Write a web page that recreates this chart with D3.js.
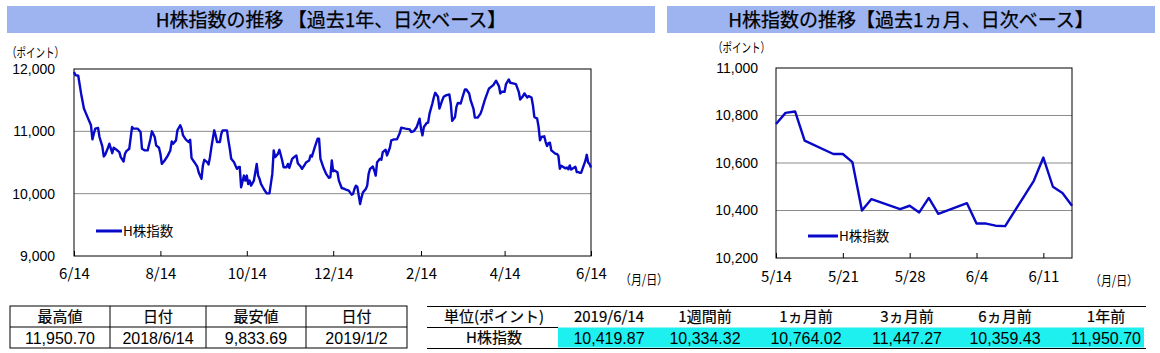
<!DOCTYPE html>
<html>
<head>
<meta charset="utf-8">
<script src="https://cdn.jsdelivr.net/npm/d3@7"></script>
<style>
  body { margin: 0; background: #fff; }
  svg { display: block; }
</style>
</head>
<body>
<svg id="chart" width="1160" height="353"></svg>
<script>
// --- data ---
// 1-year chart: calendar days since 2018/6/14 and index level
const yearStart = '2018-06-14';
const yearDays = [0, 1, 3, 5, 7, 8, 10, 12, 13, 14, 15, 17, 18, 20, 21, 22, 24, 25, 27, 28,
  30, 32, 33, 35, 36, 37, 39, 41, 42, 45, 47, 48, 50, 52, 54, 55, 57, 58, 60, 61,
  62, 64, 66, 68, 69, 70, 72, 73, 75, 76, 77, 79, 81, 82, 83, 85, 87, 88, 90, 91,
  92, 94, 95, 96, 97, 99, 100, 101, 103, 104, 105, 108, 109, 110, 111, 113, 115, 116, 117, 118,
  120, 121, 122, 123, 124, 125, 127, 129, 130, 131, 132, 134, 136, 138, 140, 141, 142, 144, 145, 147,
  148, 150, 151, 152, 154, 156, 157, 158, 160, 161, 163, 164, 166, 167, 168, 170, 172, 173, 174, 176,
  178, 180, 181, 182, 183, 184, 186, 187, 189, 191, 192, 194, 196, 197, 198, 199, 200, 202, 203, 204,
  206, 207, 208, 209, 211, 212, 213, 214, 216, 217, 218, 220, 221, 223, 224, 226, 228, 230, 231, 234,
  237, 238, 240, 242, 244, 245, 246, 247, 249, 250, 251, 253, 254, 255, 257, 258, 260, 261, 263, 265,
  266, 267, 269, 270, 271, 273, 274, 276, 277, 279, 280, 282, 283, 285, 287, 288, 290, 291, 293, 294,
  296, 298, 300, 301, 302, 304, 305, 307, 308, 310, 312, 314, 315, 317, 318, 320, 321, 323, 324, 325,
  327, 328, 329, 330, 332, 333, 334, 335, 336, 337, 340, 341, 342, 343, 344, 347, 348, 349, 350, 351,
  354, 355, 356, 357, 358, 361, 362, 363, 364, 365];
const yearValues = [11951, 11903, 11892, 11608, 11366, 11312, 11204, 11097, 10871, 10962, 11043, 11054, 10909, 10758, 10597, 10624, 10737, 10801, 10650, 10737,
  10704, 10667, 10586, 10516, 10640, 10683, 10720, 11070, 11043, 11043, 10989, 10720, 10694, 10694, 10882, 11000, 10909, 10774, 10737, 10640,
  10478, 10532, 10602, 10694, 10839, 10801, 10855, 11016, 11097, 11043, 10935, 10866, 10828, 10866, 10570, 10505, 10435, 10344, 10237, 10452,
  10543, 10505, 10468, 10586, 10747, 11016, 10935, 10828, 10828, 10962, 11016, 11016, 10855, 10720, 10559, 10505, 10398, 10425, 10430, 10102,
  10290, 10210, 10290, 10156, 10210, 10129, 10210, 10478, 10290, 10237, 10156, 10075, 10005, 10005, 10317, 10694, 10586, 10640, 10704, 10532,
  10425, 10425, 10478, 10414, 10559, 10597, 10613, 10489, 10435, 10398, 10468, 10505, 10532, 10613, 10597, 10747, 10882, 10882, 10559, 10425,
  10317, 10253, 10263, 10532, 10359, 10371, 10344, 10210, 10091, 10075, 10064, 10048, 9984, 9995, 10075, 10129, 10113, 9834, 9941, 10021,
  10075, 10129, 10317, 10398, 10435, 10371, 10290, 10505, 10559, 10543, 10667, 10704, 10613, 10737, 10855, 10871, 10871, 10973, 11059, 11043,
  11032, 10989, 11005, 11070, 11204, 11043, 10935, 11070, 11134, 11140, 11285, 11446, 11543, 11618, 11554, 11366, 11500, 11554, 11581, 11591,
  11446, 11167, 11231, 11392, 11457, 11447, 11527, 11672, 11672, 11608, 11500, 11366, 11220, 11220, 11285, 11349, 11500, 11565, 11688, 11704,
  11742, 11812, 11726, 11608, 11634, 11634, 11758, 11833, 11780, 11769, 11758, 11634, 11511, 11565, 11608, 11543, 11565, 11543, 11419, 11231,
  11204, 11070, 10855, 10909, 10920, 10828, 10764, 10811, 10817, 10694, 10638, 10638, 10604, 10400, 10448, 10406, 10420, 10392, 10453, 10386,
  10431, 10345, 10345, 10336, 10334, 10525, 10623, 10500, 10474, 10420];
const yearTicks = ['2018-06-14', '2018-08-14', '2018-10-14', '2018-12-14', '2019-02-14', '2019-04-14', '2019-06-14'];
const yearLevels = [9000, 10000, 11000, 12000];

// 1-month chart
const monthDates = ['2019-05-14', '2019-05-15', '2019-05-16', '2019-05-17', '2019-05-20', '2019-05-21', '2019-05-22',
  '2019-05-23', '2019-05-24', '2019-05-27', '2019-05-28', '2019-05-29', '2019-05-30', '2019-05-31', '2019-06-03',
  '2019-06-04', '2019-06-05', '2019-06-06', '2019-06-07', '2019-06-10', '2019-06-11', '2019-06-12', '2019-06-13', '2019-06-14'];
const monthValues = [10764, 10811, 10817, 10694, 10638, 10638, 10604, 10400, 10448, 10406, 10420, 10392, 10453, 10386, 10431,
  10345, 10345, 10336, 10334, 10525, 10623, 10500, 10474, 10420];
const monthTicks = ['2019-05-14', '2019-05-21', '2019-05-28', '2019-06-04', '2019-06-11'];
const monthLevels = [10200, 10400, 10600, 10800, 11000];

// tables
const summaryHeaders = ['最高値', '日付', '最安値', '日付'];
const summaryCells = ['11,950.70', '2018/6/14', '9,833.69', '2019/1/2'];
const compareHeaders = ['単位(ポイント)', '2019/6/14', '1週間前', '1ヵ月前', '3ヵ月前', '6ヵ月前', '1年前'];
const compareCells = ['H株指数', '10,419.87', '10,334.32', '10,764.02', '11,447.27', '10,359.43', '11,950.70'];

// --- drawing ---
const JP = '"Noto Sans CJK JP", sans-serif';
const NUM = '"Liberation Sans", Arial, sans-serif';
const LINE_COLOR = '#0808c8';
const parse = d3.timeParse('%Y-%m-%d');
const fmtMD = d3.timeFormat('%-m/%-d');

const svg = d3.select('#chart');

function drawChart(opt) {
  const { left, right, top, bottom } = opt.frame;

  const x = d3.scaleTime().domain(opt.xDomain).range([left, right]);
  const y = d3.scaleLinear().domain(d3.extent(opt.levels)).range([bottom, top]);

  // title bar
  svg.append('rect')
    .attr('x', opt.bar[0]).attr('y', 6)
    .attr('width', opt.bar[1] - opt.bar[0]).attr('height', 27)
    .attr('fill', '#9db4f0');
  svg.append('text')
    .attr('x', (opt.bar[0] + opt.bar[1]) / 2).attr('y', 20)
    .attr('dy', '0.36em')
    .attr('text-anchor', 'middle')
    .attr('stroke', '#000').attr('stroke-width', 0.25)
    .style('font-family', JP).style('font-size', '19px')
    .text(opt.title);

  // unit label
  svg.append('text')
    .attr('x', opt.unitPos[0]).attr('y', opt.unitPos[1])
    .attr('dy', '0.35em')
    .attr('textLength', 57).attr('lengthAdjust', 'spacingAndGlyphs')
    .style('font-family', JP).style('font-size', '13px')
    .text('（ポイント）');

  // gridlines
  svg.append('g')
    .selectAll('line')
    .data(opt.levels.filter(v => v !== y.domain()[0] && v !== y.domain()[1]))
    .enter().append('line')
    .attr('x1', left).attr('x2', right)
    .attr('y1', d => y(d)).attr('y2', d => y(d))
    .attr('stroke', '#8c8c8c').attr('stroke-width', 1);

  // y labels
  const yAxis = svg.append('g')
    .attr('transform', `translate(${left},0)`)
    .call(d3.axisLeft(y).tickValues(opt.levels).tickFormat(d3.format(',')).tickSize(0).tickPadding(opt.yPad));
  yAxis.select('.domain').remove();
  yAxis.selectAll('text')
    .style('font-family', NUM).style('font-size', '14px').attr('fill', '#000');

  // x axis with inward ticks
  const xAxis = svg.append('g')
    .attr('transform', `translate(0,${bottom})`)
    .call(d3.axisBottom(x).tickValues(opt.ticks).tickFormat(fmtMD).tickSizeInner(-5).tickSizeOuter(0));
  xAxis.select('.domain').remove();
  xAxis.selectAll('line').attr('stroke', '#000');
  xAxis.selectAll('text')
    .attr('y', opt.xLabelOffset).attr('dy', '0.35em')
    .style('font-family', JP).style('font-size', '15px').attr('fill', '#000');

  // (月/日)
  svg.append('text')
    .attr('x', opt.dateUnitPos[0]).attr('y', opt.dateUnitPos[1])
    .attr('dy', '0.35em')
    .attr('textLength', 48).attr('lengthAdjust', 'spacingAndGlyphs')
    .style('font-family', JP).style('font-size', '13px')
    .text('（月/日）');

  // frame
  svg.append('rect')
    .attr('x', left).attr('y', top)
    .attr('width', right - left).attr('height', bottom - top)
    .attr('fill', 'none').attr('stroke', '#000').attr('stroke-width', 1);

  // series line
  svg.append('path')
    .datum(opt.data)
    .attr('fill', 'none')
    .attr('stroke', LINE_COLOR)
    .attr('stroke-width', 2.4)
    .attr('stroke-linejoin', 'round')
    .attr('d', d3.line().x(d => x(d.date)).y(d => y(d.value)));

  // legend
  const [lx, ly, lw] = opt.legend;
  svg.append('line')
    .attr('x1', lx).attr('x2', lx + lw)
    .attr('y1', ly).attr('y2', ly)
    .attr('stroke', LINE_COLOR).attr('stroke-width', 3);
  svg.append('text')
    .attr('x', lx + lw + 1).attr('y', ly)
    .attr('dy', '0.35em')
    .style('font-family', JP).style('font-size', '13.5px')
    .text('H株指数');
}

const start = parse(yearStart);
const yearData = yearDays.map((d, i) => ({ date: d3.timeDay.offset(start, d), value: yearValues[i] }));
const monthData = monthDates.map((d, i) => ({ date: parse(d), value: monthValues[i] }));

drawChart({
  title: 'H株指数の推移 【過去1年、日次ベース】',
  bar: [7, 655],
  frame: { left: 74, right: 591, top: 69, bottom: 256 },
  xDomain: [parse(yearTicks[0]), parse(yearTicks[yearTicks.length - 1])],
  ticks: yearTicks.map(parse),
  levels: yearLevels,
  data: yearData,
  yPad: 19,
  xLabelOffset: 18,
  unitPos: [7, 52],
  dateUnitPos: [620, 279],
  legend: [96, 231, 26]
});

drawChart({
  title: 'H株指数の推移【過去1ヵ月、日次ベース】',
  bar: [667, 1155],
  frame: { left: 776, right: 1072, top: 68, bottom: 258 },
  xDomain: [parse('2019-05-14'), parse('2019-06-14')],
  ticks: monthTicks.map(parse),
  levels: monthLevels,
  data: monthData,
  yPad: 18,
  xLabelOffset: 19,
  unitPos: [713, 47],
  dateUnitPos: [1090, 280],
  legend: [808, 236, 30]
});

// --- summary table (left) ---
const colX = [10, 110, 206, 306, 407];
const rowY = [306, 327, 348];
const t1 = svg.append('g');
t1.append('rect')
  .attr('x', colX[0]).attr('y', rowY[0])
  .attr('width', colX[4] - colX[0]).attr('height', rowY[2] - rowY[0])
  .attr('fill', 'none').attr('stroke', '#000');
t1.append('line')
  .attr('x1', colX[0]).attr('x2', colX[4]).attr('y1', rowY[1]).attr('y2', rowY[1])
  .attr('stroke', '#000');
t1.selectAll('.vsep').data(colX.slice(1, 4)).enter().append('line')
  .attr('x1', d => d).attr('x2', d => d).attr('y1', rowY[0]).attr('y2', rowY[2])
  .attr('stroke', '#000');
t1.selectAll('.hd').data(summaryHeaders).enter().append('text')
  .attr('x', (d, i) => (colX[i] + colX[i + 1]) / 2).attr('y', 317).attr('dy', '0.35em')
  .attr('text-anchor', 'middle')
  .attr('stroke', '#000').attr('stroke-width', 0.2)
  .style('font-family', JP).style('font-size', '15px')
  .text(d => d);
t1.selectAll('.vl').data(summaryCells).enter().append('text')
  .attr('x', (d, i) => (colX[i] + colX[i + 1]) / 2).attr('y', 338).attr('dy', '0.35em')
  .attr('text-anchor', 'middle')
  .style('font-family', NUM).style('font-size', '16px')
  .text(d => d);

// --- comparison table (right) ---
const cmpCenters = [494, 609, 705, 806, 907, 1005, 1106];
const t2 = svg.append('g');
t2.append('rect')
  .attr('x', 558).attr('y', 327.5).attr('width', 586).attr('height', 20)
  .attr('fill', '#1ef0f0');
t2.append('line').attr('x1', 427).attr('x2', 1146).attr('y1', 306.5).attr('y2', 306.5).attr('stroke', '#000');
t2.append('line').attr('x1', 427).attr('x2', 558).attr('y1', 327.5).attr('y2', 327.5).attr('stroke', '#000');
t2.append('line').attr('x1', 427).attr('x2', 1146).attr('y1', 348.5).attr('y2', 348.5).attr('stroke', '#000');
t2.selectAll('.hd').data(compareHeaders).enter().append('text')
  .attr('x', (d, i) => cmpCenters[i]).attr('y', 317).attr('dy', '0.35em')
  .attr('text-anchor', 'middle')
  .attr('stroke', '#000').attr('stroke-width', 0.2)
  .style('font-family', JP).style('font-size', '15px')
  .text(d => d);
t2.selectAll('.vl').data(compareCells).enter().append('text')
  .attr('x', (d, i) => cmpCenters[i]).attr('y', 338).attr('dy', '0.35em')
  .attr('text-anchor', 'middle')
  .attr('stroke', (d, i) => i === 0 ? '#000' : 'none').attr('stroke-width', 0.2)
  .style('font-family', (d, i) => i === 0 ? JP : NUM).style('font-size', (d, i) => i === 0 ? '15px' : '16px')
  .text(d => d);
</script>
</body>
</html>
